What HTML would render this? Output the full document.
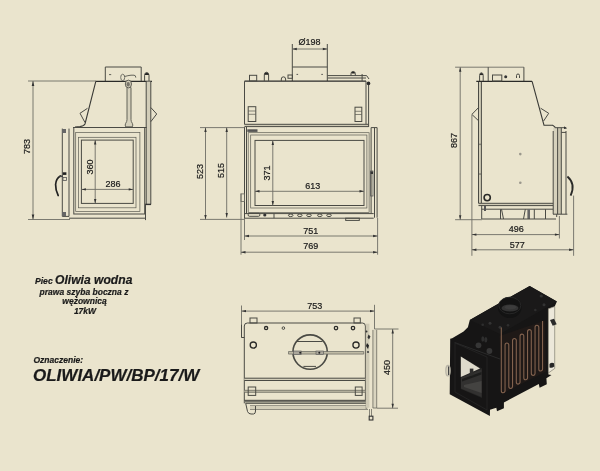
<!DOCTYPE html>
<html><head><meta charset="utf-8">
<style>
html,body{margin:0;padding:0;background:#EAE4CD;width:600px;height:471px;overflow:hidden}
svg{display:block;filter:blur(0.3px)}
text{font-family:"Liberation Sans",sans-serif;fill:#1a1a1a;stroke:#1a1a1a;stroke-width:0.2}
.l{fill:none;stroke:#4a4a44;stroke-width:1}
.t{fill:none;stroke:#5a5a52;stroke-width:0.7}
.d{fill:none;stroke:#6e6d65;stroke-width:0.9}
.k{fill:none;stroke:#2a2a28;stroke-width:1.3}
</style></head><body>
<svg width="600" height="471" viewBox="0 0 600 471">
<rect width="600" height="471" fill="#EAE4CD"/>

<!-- ============ LEFT SIDE VIEW ============ -->
<g id="leftview">
  <!-- dimension 783 -->
  <path class="d" d="M28 81H96 M33 81V219.5 M28 219.5H70"/>
  <path d="M33 81 l-1.3 5 h2.6z M33 219.5 l-1.3 -5 h2.6z" fill="#333"/>
  <text transform="translate(30.2 146.45) rotate(-90)" font-size="9" text-anchor="middle">783</text>
  <!-- chimney plate -->
  <path class="l" d="M105.3 81V67H141.2V81"/>
  <!-- body -->
  <path class="k" d="M95.8 81.3H152"/>
  <path d="M95.8 81.3L85 124 Q84 126 80 126.5 L75 127" fill="none" stroke="#3a3a36" stroke-width="1.1"/>
  <path class="l" d="M80 113.3L87.5 108.3 M80 113.3L85 122.5"/>
  <!-- hanger -->
  <path d="M127 87.5V119.7 Q127 121.5 125.6 123.5 Q124.8 125 125.6 126.8 H132.4 Q133.2 125 132.4 123.5 Q131 121.5 131 119.7 V87.5z" fill="#d6d1bc" stroke="#55554d" stroke-width="0.9"/>
  <ellipse cx="128.4" cy="84" rx="3.1" ry="3.9" fill="#cfcab5" stroke="#55554d" stroke-width="0.9"/>
  <ellipse cx="128.2" cy="84.2" rx="1.6" ry="2.2" fill="#77746a"/>
  <ellipse cx="122.7" cy="77.4" rx="2" ry="3.2" fill="none" stroke="#66665d" stroke-width="0.9"/>
  <path d="M124.6 76.5 Q128 75.5 131 75.2 H134 Q135.8 75.2 135.8 77.6" fill="none" stroke="#55554d" stroke-width="0.9"/>
  <path d="M109 74.6h2.2" stroke="#55554d" stroke-width="0.9"/>
  <!-- right strip -->
  <rect x="146.2" y="81.5" width="4.6" height="122.9" fill="#d2cdb8"/>
  <path class="l" d="M146.2 81V204.4 M150.8 81V204.4 M150.8 107.5L156.7 114L150.8 121.7"/>
  <path d="M145 204.4H151" stroke="#333" stroke-width="1.4"/>
  <path class="l" d="M144.6 81V75.2Q144.6 72.6 146.8 72.6Q149 72.6 149 75.2V81"/><path d="M145 74.5Q146.8 72 148.6 74.5z" fill="#222" stroke="#222" stroke-width="1"/>
  <!-- door -->
  <path class="l" d="M73 127.5H146.7"/>
  <rect class="l" x="73.8" y="127.5" width="70.9" height="86.5"/>
  <rect class="t" x="75.7" y="132.5" width="64.2" height="79.1"/>
  <rect class="t" x="78.5" y="137.3" width="57.5" height="70.5"/>
  <rect class="l" x="81.4" y="140.1" width="51.8" height="63.3"/>
  <path class="l" d="M62.3 128.6V216.4 M69 128.6V216.4 M62.3 216.4H69"/>
  <path d="M60.5 176 Q56 178.5 55.6 184.5 Q55.5 190.5 58.2 195.5" fill="none" stroke="#222" stroke-width="1.7" stroke-linecap="round"/>
  <path d="M59.5 176.3H63" stroke="#444" stroke-width="1.6"/>
  <rect x="62.8" y="172.3" width="3.6" height="2.6" fill="#222"/>
  <rect x="63" y="177.5" width="3.4" height="3" fill="none" stroke="#555" stroke-width="0.8"/>
  <rect x="62" y="212" width="4" height="4" fill="#666"/>
  <rect x="62" y="129" width="4" height="4" fill="#666"/>
  <path class="l" d="M69 218.2H145.5 M145.5 204.4V220.1"/>
  <!-- dims 360 / 286 -->
  <path class="d" d="M95.2 140.1V203.4 M81.4 189.4H133.2"/>
  <path d="M95.2 140.1l-1.2 4.5h2.4z M95.2 203.4l-1.2 -4.5h2.4z M81.4 189.4l4.5 -1.2v2.4z M133.2 189.4l-4.5 -1.2v2.4z" fill="#333"/>
  <text transform="translate(93.2 167.05) rotate(-90)" font-size="9" text-anchor="middle">360</text>
  <text x="112.9" y="186.8" font-size="9" text-anchor="middle">286</text>
</g>

<!-- ============ FRONT VIEW ============ -->
<g id="frontview">
  <!-- chimney -->
  <path class="l" d="M292.3 81V44 M327.3 81V44 M292.3 67H327.3"/>
  <path class="d" d="M292.3 49H327.3"/>
  <path d="M292.3 49l4.5 -1.2v2.4z M327.3 49l-4.5 -1.2v2.4z" fill="#333"/>
  <path d="M296.5 74.4h1.6 M321.3 74.4h1.6" stroke="#444" stroke-width="0.9"/>
  <text x="309.5" y="45.1" font-size="9" text-anchor="middle">&#216;198</text>
  <!-- body -->
  <path class="k" d="M244.5 81.2H366"/>
  <path class="l" d="M244.5 81.2V124.5 M366 81.2V124.5"/>
  <rect x="244.5" y="124.3" width="124" height="2.3" fill="#cdc8b3"/>
  <path class="l" d="M244.5 124.3H368.6 M244.5 126.6H368.6 M368.6 84V127"/>
  <rect class="l" x="248.2" y="106.7" width="7.6" height="14.8"/>
  <path class="t" d="M248.2 111H255.8 M248.2 114.3H255.8"/>
  <rect class="l" x="355" y="107.2" width="6.8" height="14.3"/>
  <path class="t" d="M355 111.3H361.8 M355 114.5H361.8"/>
  <rect class="l" x="249.5" y="75.3" width="7.2" height="5.7"/>
  <path class="l" d="M264.3 81V74.8Q264.3 72.2 266.45 72.2Q268.6 72.2 268.6 74.8V81"/><path d="M264.7 74.2Q266.45 71.7 268.2 74.2z" fill="#222" stroke="#222" stroke-width="1"/>
  <path class="l" d="M281.3 81v-2a2.1 2.1 0 0 1 4.3 0v2"/>
  <rect class="l" x="288" y="75" width="4.4" height="3.3"/>
  <path class="l" d="M327.5 75.6H366.6L369 79 M327.5 78H366 M362.1 74V81"/>
  <circle cx="368.5" cy="83.4" r="1.8" fill="#2a2a2a"/>
  <path class="l" d="M351 75.6v-2a2.1 2.1 0 0 1 4.3 0v2"/><path d="M351.4 73.6a1.8 1.8 0 0 1 3.6 0z" fill="#222"/>
  <!-- door -->
  <path class="l" d="M244.5 127V218.7 M246.5 127V213.6 M371.1 127.6V213.6"/>
  <rect class="t" x="248.2" y="132.7" width="120.9" height="79.9"/>
  <rect class="t" x="250.7" y="135" width="116.2" height="73"/>
  <rect class="l" x="255" y="140.4" width="109" height="65.1"/>
  <rect x="247.3" y="129.3" width="10.2" height="2.6" fill="#555"/>
  <path class="l" d="M244.5 213.6H373.7 M244.5 218.2H373.7"/>
  <path class="l" d="M374.5 127.6V217.7 M377.1 127.6V217.7 M371.1 127.6H377.1"/>
  <rect x="370.6" y="171" width="2.4" height="25" fill="none" stroke="#555" stroke-width="0.8"/>
  <path d="M370.6 171.5h2.4v2.5h-2.4z" fill="#333"/>
  <ellipse class="l" cx="290.7" cy="215.3" rx="2.3" ry="1.3"/>
  <ellipse class="l" cx="299.8" cy="215.3" rx="2.3" ry="1.3"/>
  <ellipse class="l" cx="309" cy="215.3" rx="2.3" ry="1.3"/>
  <ellipse class="l" cx="319.8" cy="215.3" rx="2.3" ry="1.3"/>
  <ellipse class="l" cx="329" cy="215.3" rx="2.3" ry="1.3"/>
  <rect class="l" x="248.2" y="213.3" width="11.6" height="3" rx="1.2"/>
  <circle cx="264.8" cy="215" r="1.6" fill="#333"/>
  <path class="l" d="M274 213.6V218.2"/>
  <rect class="l" x="345.7" y="218.2" width="13.6" height="2.2"/>
  <!-- dims -->
  <path class="d" d="M200 127.6H244.5 M200 219.4H244.5 M205.5 127.6V219.4 M226.7 127.6V217.5"/>
  <path d="M205.5 127.6l-1.2 4.5h2.4z M205.5 219.4l-1.2 -4.5h2.4z M226.7 127.6l-1.2 4.5h2.4z M226.7 217.5l-1.2 -4.5h2.4z" fill="#333"/>
  <text transform="translate(202.9 171.5) rotate(-90)" font-size="9" text-anchor="middle">523</text>
  <text transform="translate(223.9 170.55) rotate(-90)" font-size="9" text-anchor="middle">515</text>
  <path class="d" d="M272.8 140.4V205.5 M255 191.3H364"/>
  <path d="M272.8 140.4l-1.2 4.5h2.4z M272.8 205.5l-1.2 -4.5h2.4z M255 191.3l4.5 -1.2v2.4z M364 191.3l-4.5 -1.2v2.4z" fill="#333"/>
  <text transform="translate(270.2 173.1) rotate(-90)" font-size="9" text-anchor="middle">371</text>
  <text x="312.75" y="188.8" font-size="9" text-anchor="middle">613</text>
  <path class="d" d="M241 193.6V254.7 M244.5 219V240 M377.6 218V254.7 M244.5 236H377.6 M241 252.2H377.6"/>
  <rect x="241" y="193.9" width="3.6" height="7.6" fill="none" stroke="#66665e" stroke-width="0.8"/>
  <path d="M244.5 236l4.5 -1.2v2.4z M377.6 236l-4.5 -1.2v2.4z M241 252.2l4.5 -1.2v2.4z M377.6 252.2l-4.5 -1.2v2.4z" fill="#333"/>
  <text x="310.75" y="233.9" font-size="9" text-anchor="middle">751</text>
  <text x="310.75" y="249.25" font-size="9" text-anchor="middle">769</text>
</g>

<!-- ============ RIGHT SIDE VIEW ============ -->
<g id="rightview">
  <path class="d" d="M455.1 67.2H523.9 M460.2 67.2V219.7 M455.1 219.7H482"/>
  <path d="M460.2 67.2l-1.2 4.5h2.4z M460.2 219.7l-1.2 -4.5h2.4z" fill="#333"/>
  <text transform="translate(457.2 140.6) rotate(-90)" font-size="9" text-anchor="middle">867</text>
  <path class="l" d="M488.2 81.3V67.2 M523.9 67.2V81.3"/>
  <!-- left panel -->
  <rect x="478.5" y="81.3" width="3" height="122" fill="#d2cdb8"/>
  <path class="l" d="M478.5 81.3V203.4 M481.4 81.3V203.4"/>
  <path class="l" d="M478.6 107.5L471.9 114.4L478.6 120.8"/>
  <path d="M480 143.6v1.5 M480 173.3v1.5" stroke="#444" stroke-width="1"/>
  <path class="k" d="M476.3 81.3H532.1"/>
  <path d="M532.1 81.3 L544 125.2 H552.7 L554.9 126.9 V131" fill="none" stroke="#3a3a36" stroke-width="1.1"/>
  <path class="l" d="M540.6 108.2L548.7 113.3L543.6 121"/>
  <!-- body bottom & base -->
  <rect x="478.5" y="203.3" width="76" height="2.4" fill="#d0cbb6"/>
  <path class="l" d="M478.5 203.3H554.5 M478.5 205.6H554.5 M481.7 209.2H556.7"/>
  <path class="l" d="M481.7 205.6V219 M500.5 209.2V219 M501.5 209.2L503.5 219 M523.5 219L525.3 209.2 M534.3 209.2V219 M545.5 209.2V219 M556.7 205.6V217"/>
  <rect x="527.4" y="209.2" width="2.6" height="9.8" fill="#666"/>
  <rect x="484" y="206" width="2" height="5" fill="#555"/><rect x="553" y="206" width="2" height="5" fill="#555"/>
  <path class="l" d="M482 219H556"/>
  <path class="l" d="M479.6 81V75.3Q479.6 72.8 481.4 72.8Q483.2 72.8 483.2 75.3V81"/><path d="M480 74.6Q481.4 72.3 482.8 74.6z" fill="#222" stroke="#222" stroke-width="1"/>
  <rect class="l" x="492.5" y="75" width="9.3" height="6"/>
  <circle cx="505.7" cy="76.7" r="1.5" fill="#333"/>
  <path class="l" d="M516.5 78v-2.5a1.5 1.5 0 0 1 3 0V78"/>
  <circle cx="520.3" cy="154.1" r="1.3" fill="#9a978c"/>
  <circle cx="520.3" cy="182.7" r="1.3" fill="#9a978c"/>
  <circle cx="487.2" cy="197.6" r="3.1" fill="none" stroke="#2a2a28" stroke-width="1.6"/>
  <!-- right bars -->
  <rect x="553.2" y="127.7" width="4.2" height="86.5" fill="#d6d1bc"/>
  <rect x="558" y="127.7" width="3" height="86.5" fill="#c9c4af"/>
  <path class="l" d="M553.2 131V214.2 M557.6 127.7V214.2 M561.3 127.7V214.2 M566 131V214.2 M554.9 127.7H566.3 M561.3 132.4H566 M553 214.2H567.4"/>
  <path d="M564 126.2l3 2.2l-3 .6z" fill="#333"/>
  <path d="M567.4 176.5 Q576 184 570.6 195.6" fill="none" stroke="#2a2a28" stroke-width="1.8"/>
  <path class="d" d="M471.9 115V255.8 M559.4 216V238.5 M573.6 195.6V255.8 M471.9 234.6H559.4 M471.9 249.8H573.6"/>
  <path d="M471.9 234.6l4.5 -1.2v2.4z M559.4 234.6l-4.5 -1.2v2.4z M471.9 249.8l4.5 -1.2v2.4z M573.6 249.8l-4.5 -1.2v2.4z" fill="#333"/>
  <text x="516.15" y="231.95" font-size="9" text-anchor="middle">496</text>
  <text x="517.3" y="247.5" font-size="9" text-anchor="middle">577</text>
</g>


<!-- ============ PLAN VIEW ============ -->
<g id="planview">
  <path class="d" d="M241.5 305.5V337.5 M374.5 304.8V329 M241.5 311.1H374.5"/>
  <path d="M241.5 311.1l4.5 -1.2v2.4z M374.5 311.1l-4.5 -1.2v2.4z" fill="#333"/>
  <text x="314.85" y="308.55" font-size="9" text-anchor="middle">753</text>
  <path class="d" d="M374.5 329H398.5 M376.7 408.2H398 M392.7 329V408.2"/>
  <path d="M392.7 329l-1.2 4.5h2.4z M392.7 408.2l-1.2 -4.5h2.4z" fill="#333"/>
  <text transform="translate(390.1 367.45) rotate(-90)" font-size="9" text-anchor="middle">450</text>
  <!-- body -->
  <path class="l" d="M244.3 403.3V326 Q244.3 323 247.3 323 H362.4 Q365.4 323 365.4 326 V400"/>
  <rect class="l" x="250" y="318" width="7" height="5"/>
  <rect class="l" x="354" y="318" width="6.3" height="5"/>
  <path class="l" d="M241.5 324.7V337.5 H244.3"/>
  <circle class="k" cx="266.1" cy="328.1" r="1.6"/>
  <circle class="l" cx="283.4" cy="328.1" r="1.3"/>
  <circle class="k" cx="336" cy="328.1" r="1.7"/>
  <circle class="k" cx="353" cy="328.1" r="1.7"/>
  <circle class="k" cx="253.3" cy="345.1" r="3.1"/>
  <circle class="k" cx="356" cy="345.1" r="3.1"/>
  <circle cx="310.1" cy="352.1" r="17.2" fill="none" stroke="#4a4a44" stroke-width="1.6"/>
  <path class="l" d="M297 341.5H322.5 M303.4 366.4H316"/>
  <path d="M288.5 351.5H363.7V354.1H288.5z" fill="#bfbaa5" stroke="#66665e" stroke-width="0.7"/>
  <rect x="293.6" y="351" width="7.6" height="3.6" fill="#aaa69a" stroke="#555" stroke-width="0.6"/>
  <rect x="316" y="351" width="7.6" height="3.6" fill="#aaa69a" stroke="#555" stroke-width="0.6"/>
  <circle cx="300.2" cy="352.8" r="1" fill="#222"/><circle cx="319.3" cy="352.8" r="1" fill="#222"/>
  <rect x="244.3" y="378.2" width="121" height="2.3" fill="#d3ceb9"/>
  <path class="l" d="M244.3 378.2H365.4 M244.3 380.5H365.4"/>
  <rect x="244.3" y="390.3" width="121" height="2" fill="#c2bda8"/>
  <path class="t" d="M244.3 390.3H365.4 M244.3 392.3H365.4"/>
  <rect class="l" x="248.2" y="387" width="7.5" height="8.4" fill="#EAE4CD"/>
  <rect class="l" x="355.3" y="387" width="6.8" height="8.4" fill="#EAE4CD"/>
  <path d="M244.3 400.3H368V402.6H244.3z" fill="#77766c"/>
  <path class="l" d="M244.3 400.3H368 M245.7 403.3H368 M250 406H368 M250 409.5H368"/>
  <rect x="250" y="406" width="118" height="3.5" fill="#d3ceb9"/>
  <path class="l" d="M245.7 403.3L247.5 411.5Q248.5 414 251 414H253.5Q255.5 414 255.5 411V406"/>
  <rect x="373" y="329.9" width="3.7" height="78" fill="#d9d4bf"/>
  <path class="t" d="M366.2 326V409 M372.9 329.9V408 M376.7 329.9V408 M372.9 408H376.7"/>
  <rect x="365.8" y="323.7" width="3.6" height="84" fill="#cfcab5"/>
  <circle cx="366.5" cy="331.5" r="1" fill="#333"/>
  <path d="M368.5 334.5l2 2l-1.5 3l-1.5 -2z" fill="#333"/>
  <path d="M367 343l2 2.5l-1 3.5l-2 -3z" fill="#222"/>
  <circle cx="368" cy="352" r="1.1" fill="#444"/>
  <path class="t" d="M369.5 409V416 M371.5 409V416"/>
  <rect x="369.2" y="416.2" width="3.7" height="3.8" fill="none" stroke="#333" stroke-width="1.1"/>
</g>


<!-- ============ 3D VIEW ============ -->
<g id="iso">
  <!-- silhouette -->
  <path d="M529.7 285.9 L556.9 301.6 L554.7 306.5 L548.4 308.8 L548.4 374.5 L551.5 375 L546.4 378.3 L546.8 384.3 L539.6 387.7 L538.8 383.9 L503.9 402.5 L503.9 408.3 L497 411.3 L496.3 407.8 L490 409.8 L489.9 415.9 L449.7 394.2 L450.2 338.7 L452.2 338.2 L463.6 331.5 L467.9 327.2 L469.8 320 Z" fill="#161515"/>
  <!-- top face slight sheen -->
  <path d="M529.7 285.9 L556.9 301.6 L500 334 L469.8 320 Z" fill="#1a1919"/>
  <!-- side panel brown -->
  <path d="M499.5 336 L544.8 320.5 L546 371.5 L502.5 393.5 Z" fill="#1f1917"/>
  <!-- right white panel -->
  <path d="M548.4 308.8 L554.7 306.5 L554.7 368.5 L549 372.5 L548.4 372.5 Z" fill="#ece8da" stroke="#6f6b60" stroke-width="0.6"/>
  <path d="M550 320 l4 -1.3 l2.7 5.5 l-4 1.5z" fill="#2a2a2a"/>
  <path d="M549.5 364 Q551.5 361.8 554 363.2 L554.3 366.5 Q552 368.5 549.5 367.5z" fill="#262626"/>
  <!-- collar -->
  <ellipse cx="509.8" cy="307.5" rx="11.8" ry="10.5" fill="#131313"/>
  <ellipse cx="509.8" cy="305.5" rx="11" ry="8.3" fill="none" stroke="#262626" stroke-width="1"/>
  <ellipse cx="510" cy="308" rx="8.5" ry="3.6" fill="#333"/>
  <ellipse cx="510.5" cy="307.3" rx="6" ry="2.2" fill="#3c3c3c"/>
  <!-- top bolts -->
  <circle cx="541.3" cy="296" r="1.6" fill="#333"/>
  <circle cx="544" cy="304.7" r="1.5" fill="#333"/>
  <circle cx="535.3" cy="310" r="1.3" fill="#2e2e2e"/>
  <circle cx="490" cy="323.3" r="1.5" fill="#333"/>
  <circle cx="500" cy="327.3" r="1.5" fill="#333"/>
  <circle cx="508" cy="325.3" r="1.3" fill="#2e2e2e"/>
  <circle cx="482.7" cy="324.7" r="1.3" fill="#2e2e2e"/>
  <!-- front block with knobs -->
  <ellipse cx="482.8" cy="339" rx="1.5" ry="2.8" fill="#2e2e2e"/>
  <ellipse cx="485.8" cy="339.8" rx="1.5" ry="2.8" fill="#2e2e2e"/>
  <circle cx="478.5" cy="345.3" r="2.9" fill="#363636"/>
  <circle cx="489.4" cy="351" r="2.9" fill="#363636"/>
    <path d="M454.6 342.5 L500 359" stroke="#2a2a2a" stroke-width="1" fill="none"/>
  <!-- glass opening -->
  <path d="M460.8 356.5 L482 368.6 L482 398 L460.8 389 Z" fill="#262524"/>
  <path d="M460.8 356.5 L480 368.6 L460.8 376.9 Z" fill="#dedacb"/>
  <path d="M461 377.5 L481.5 369.5 L481.5 397 L461 388.5 Z" fill="#323130"/>
  <path d="M462 379 L481.5 372 L481.5 374.5 L462 381.5 Z" fill="#1d1d1c"/>
  <path d="M464 385 L481.5 381 L481.5 393 L464 387 Z" fill="#444341"/>
  <rect x="469.8" y="368.6" width="3.6" height="6.8" fill="#2e2d2c"/>
  <!-- door frame inner edge highlight -->
  <path d="M455 343 L487 357 L487 410 L455 392 Z" fill="none" stroke="#262626" stroke-width="0.8"/>
  <!-- handle -->
  <ellipse cx="448" cy="370.7" rx="2.1" ry="5.2" fill="none" stroke="#b8b4a6" stroke-width="1.4"/>
  <path d="M448.5 366.5 V375" stroke="#444" stroke-width="1.2"/>
  <!-- coils -->
  <g fill="none" stroke="#82624e" stroke-width="1.1">
    <path d="M501.30 327.5 V390.71 A1.875 2.062 0 0 0 505.05 390.71 V345.04 A1.875 2.062 0 0 1 508.80 345.04 V386.37 A1.875 2.062 0 0 0 512.55 386.37 V340.59 A1.875 2.062 0 0 1 516.30 340.59 V382.03 A1.875 2.062 0 0 0 520.05 382.03 V336.14 A1.875 2.062 0 0 1 523.80 336.14 V377.69 A1.875 2.062 0 0 0 527.55 377.69 V331.70 A1.875 2.062 0 0 1 531.30 331.70 V373.34 A1.875 2.062 0 0 0 535.05 373.34 V327.25 A1.875 2.062 0 0 1 538.80 327.25 V369.00 A1.875 2.062 0 0 0 542.55 369.00 V321"/>
  </g>
</g>

<!-- ============ TEXT ============ -->
<g font-style="italic" font-weight="bold">
  <text x="35" y="284.4" font-size="8.6">Piec <tspan font-size="12.1">Oliwia wodna</tspan></text>
  <text x="84" y="295.2" font-size="8.5" text-anchor="middle">prawa szyba boczna z</text>
  <text x="84.5" y="304.4" font-size="8.5" text-anchor="middle">wężownicą</text>
  <text x="85" y="314.4" font-size="8.5" text-anchor="middle">17kW</text>
  <text x="33.5" y="363" font-size="8.5">Oznaczenie:</text>
  <text x="33" y="380.5" font-size="17">OLIWIA/PW/BP/17/W</text>
</g>

</svg>
</body></html>
